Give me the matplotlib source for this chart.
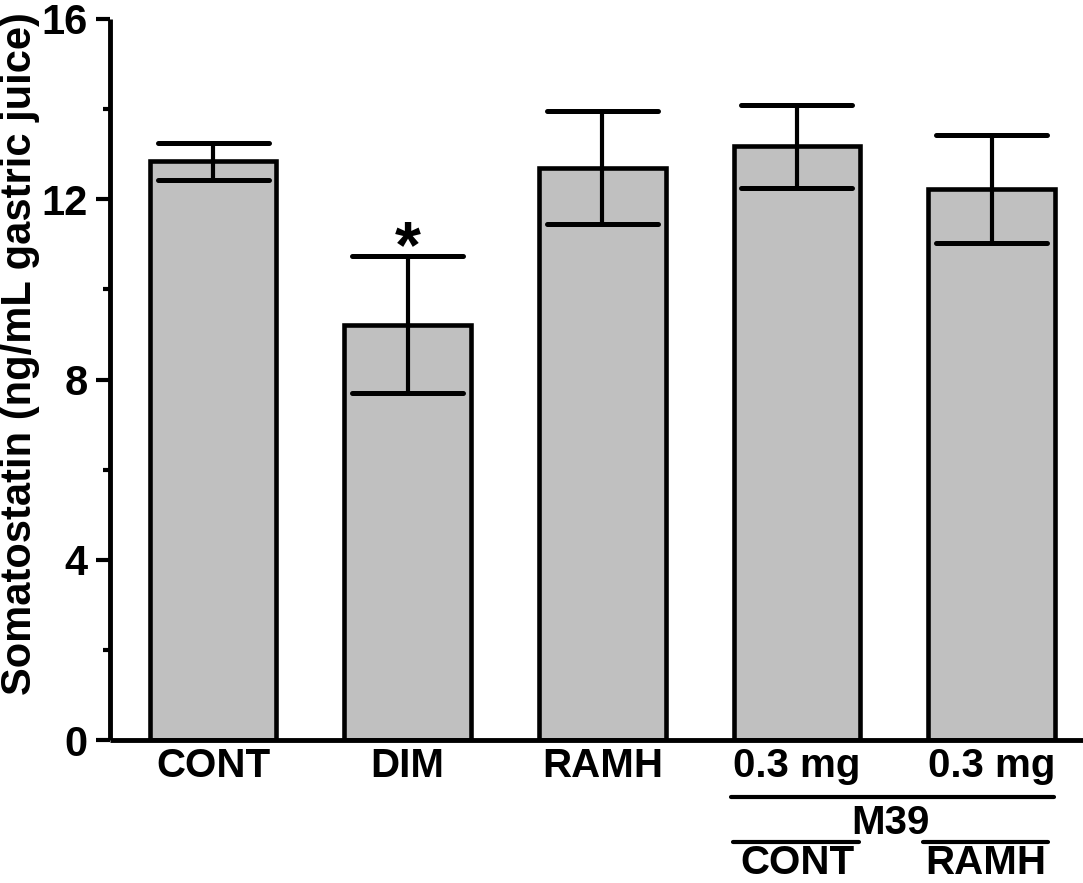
import numpy as np
import matplotlib
matplotlib.use("Agg")
import matplotlib.pyplot as plt

# --- Data ---
groups = ["CONT", "DIM", "RAMH", "0.3 mg", "0.3 mg"]
means = [12.84, 9.22, 12.70, 13.18, 12.23]
sems = [0.41, 1.53, 1.26, 0.92, 1.20]
sig_marks = ["", "*", "", "", ""]
sub_labels = ["CONT", "RAMH"]      # under the M39 line
bracket_label = "M39"
y_ticks = [0, 4, 8, 12, 16]
y_minor = [2, 6, 10, 14]

plt.rcParams['font.family'] = ['Liberation Sans', 'DejaVu Sans']
plt.rcParams['font.weight'] = 'bold'

fig = plt.figure(figsize=(10.83, 8.83), dpi=100)
ax = fig.add_axes([110 / 1083, 1 - 740 / 883, 973 / 1083, 721 / 883])

x = np.arange(len(groups))
ax.bar(x, means, width=0.65, color='#c0c0c0', edgecolor='black',
       linewidth=3.3, zorder=2)
ax.errorbar(x, means, yerr=sems, fmt='none', ecolor='black',
            elinewidth=3, capsize=0, zorder=3)
# caps with round ends
ax.hlines([m + s for m, s in zip(means, sems)], x - 0.285, x + 0.285,
          color='black', linewidth=3.6, capstyle='round', zorder=3)
ax.hlines([m - s for m, s in zip(means, sems)], x - 0.285, x + 0.285,
          color='black', linewidth=3.6, capstyle='round', zorder=3)

for xi, m, s, mark in zip(x, means, sems, sig_marks):
    if mark:
        ax.annotate(mark, (xi, m + s), xytext=(0, -8),
                    textcoords='offset points', ha='center', va='baseline',
                    fontsize=48, fontweight='bold')

ax.set_xlim(-0.53, 4.47)
ax.set_ylim(0, 16)
ax.set_yticks(y_ticks)
ax.set_yticks(y_minor, minor=True)
ax.set_xticks(x, groups)

for side in ['top', 'right']:
    ax.spines[side].set_visible(False)
for side in ['left', 'bottom']:
    ax.spines[side].set_linewidth(3.5)
    ax.spines[side].set_capstyle('butt')

ax.tick_params(axis='y', which='major', direction='out', length=10, width=3,
               labelsize=30, pad=6)
ax.tick_params(axis='y', which='minor', direction='out', length=5, width=3)
ax.tick_params(axis='x', length=0, labelsize=29, pad=5)
for lab in ax.get_xticklabels() + ax.get_yticklabels():
    lab.set_fontweight('bold')

ax.set_ylabel("Somatostatin (ng/mL gastric juice)", fontsize=30,
              fontweight='bold')
ax.yaxis.set_label_coords(-0.072, 0.536)

# M39 grouping under the last two bars
trans = ax.get_xaxis_transform()
ax.plot([x[3] - 0.34, x[4] + 0.32], [-0.079, -0.079], transform=trans,
        color='black', linewidth=3, solid_capstyle='round', clip_on=False)
ax.text((x[3] + x[4]) / 2 - 0.02, -0.131, bracket_label, transform=trans,
        ha='center', va='baseline', fontsize=29, fontweight='bold')
ax.plot([x[3] - 0.33, x[3] + 0.32], [-0.1415, -0.1415], transform=trans,
        color='black', linewidth=3, solid_capstyle='round', clip_on=False)
ax.plot([x[4] - 0.35, x[4] + 0.29], [-0.1415, -0.1415], transform=trans,
        color='black', linewidth=3, solid_capstyle='round', clip_on=False)
ax.text(x[3], -0.1865, sub_labels[0], transform=trans,
        ha='center', va='baseline', fontsize=29, fontweight='bold')
ax.text(x[4] - 0.03, -0.1865, sub_labels[1], transform=trans,
        ha='center', va='baseline', fontsize=29, fontweight='bold')

fig.savefig("out.png", dpi=100)
